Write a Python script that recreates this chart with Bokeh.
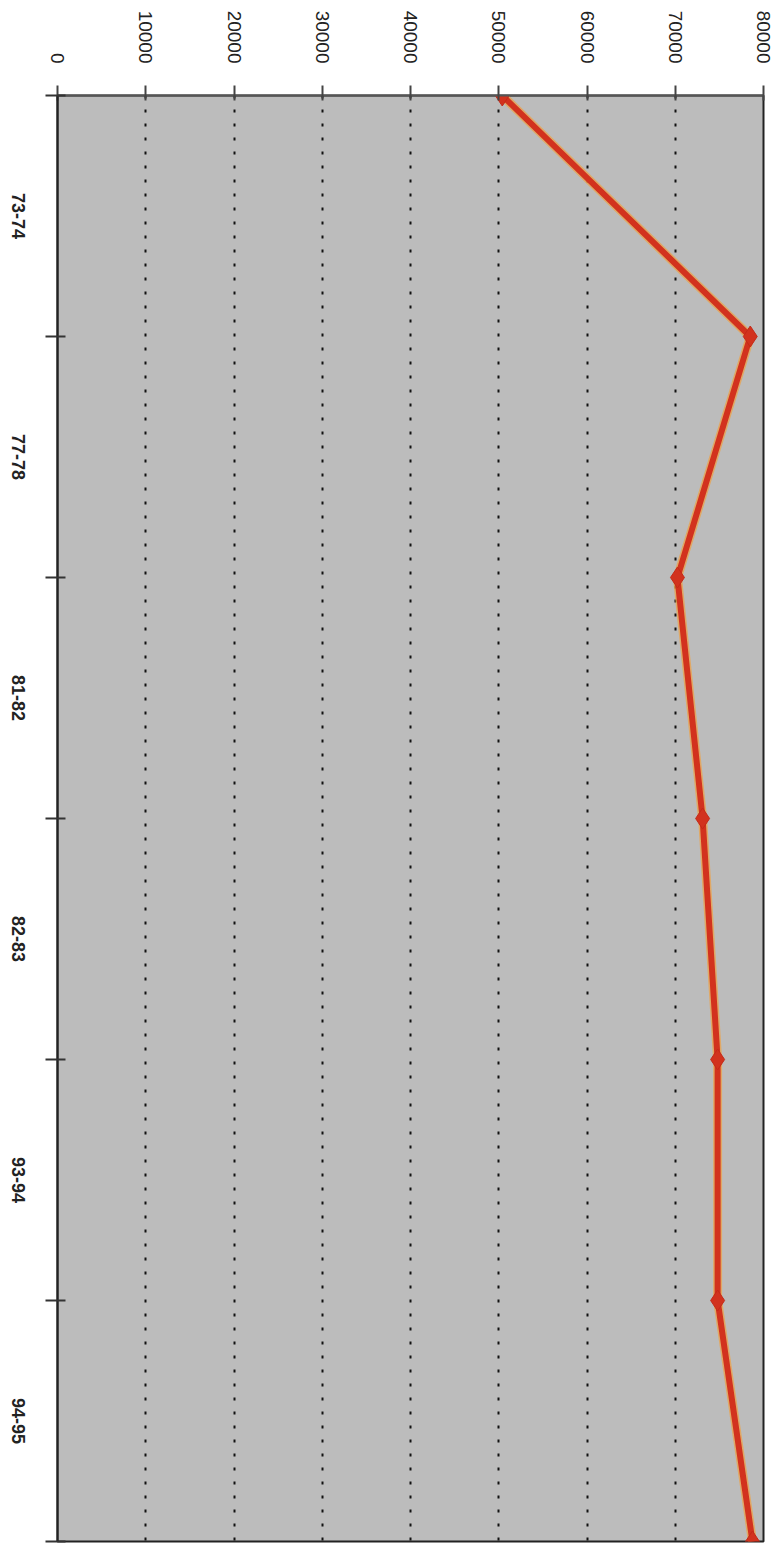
import math
from bokeh.plotting import figure
from bokeh.models import Range1d, FixedTicker
from bokeh.embed import file_html
from bokeh.resources import INLINE

categories = ["73-74", "77-78", "81-82", "82-83", "93-94", "94-95"]
values = [50400, 78500, 70250, 73100, 74800, 74800, 78750]
value_ticks = [0, 10000, 20000, 30000, 40000, 50000, 60000, 70000, 80000]

idx = list(range(len(values)))

# rotated labels are end-anchored by Bokeh; shift anchor by half the label
# length (~23px of ~241px per category) so each label is centred in its band
half_label = 23.0 / 241.0
label_pos = [i + 0.5 + half_label for i in range(len(categories))]

p = figure(width=781, height=1543, output_backend="svg", toolbar_location=None,
           x_range=Range1d(0, 80000), y_range=Range1d(6, 0),
           x_axis_location="above", y_axis_location="left",
           min_border_left=57, min_border_right=18, min_border_top=95, min_border_bottom=2)

p.background_fill_color = "#bcbcbc"
p.border_fill_color = "white"
p.outline_line_color = "#222222"
p.outline_line_width = 2

# value axis (top)
xa = p.xaxis[0]
xa.ticker = FixedTicker(ticks=value_ticks)
xa.major_label_orientation = -math.pi / 2
xa.major_label_standoff = 22
xa.major_label_text_font = "Liberation Sans"
xa.major_label_text_font_size = "19px"
xa.major_label_text_color = "#222222"
xa.axis_line_color = "#555555"
xa.axis_line_width = 2
xa.major_tick_out = 10
xa.major_tick_in = 5
xa.major_tick_line_color = "#444444"
xa.major_tick_line_width = 2
xa.minor_tick_line_color = None

# category axis (left)
ya = p.yaxis[0]
ya.ticker = FixedTicker(ticks=label_pos, minor_ticks=idx)
ya.major_label_overrides = {lp: c for lp, c in zip(label_pos, categories)}
ya.major_label_orientation = -math.pi / 2
ya.major_label_standoff = 27
ya.major_label_text_font = "Liberation Sans"
ya.major_label_text_font_style = "bold"
ya.major_label_text_font_size = "18px"
ya.major_label_text_color = "#222222"
ya.major_tick_line_color = None
ya.minor_tick_out = 12
ya.minor_tick_in = 8
ya.minor_tick_line_color = "#333333"
ya.minor_tick_line_width = 2
ya.axis_line_color = "#222222"
ya.axis_line_width = 2

p.xgrid.ticker = FixedTicker(ticks=value_ticks[1:-1])
p.xgrid.grid_line_color = "#111111"
p.xgrid.grid_line_dash = "3 11"
p.xgrid.grid_line_width = 2
p.ygrid.grid_line_color = None

p.line(values, idx, line_color="#f0a040", line_width=9, line_alpha=0.7)
p.line(values, idx, line_color="#d2321e", line_width=6)
p.scatter(values, idx, marker="diamond", size=21, fill_color="#d2321e", line_color="#c42a18")

open("out.html", "w").write(file_html(p, INLINE))
